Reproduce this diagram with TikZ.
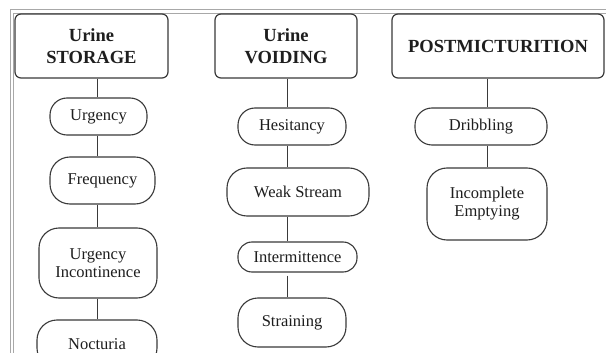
\documentclass[tikz,border=0pt]{standalone}
\usepackage{fontspec}
\setmainfont{Liberation Serif}
\definecolor{linec}{HTML}{3A3A3A}
\definecolor{txtc}{HTML}{1E1E1E}
\definecolor{framec}{HTML}{A8A8A8}
\tikzset{
  hdr/.style={draw=linec, line width=1.2pt, rounded corners=6pt, text=txtc,
    font=\fontsize{18.5}{22}\selectfont\bfseries, align=center, inner sep=0pt},
  item/.style={draw=linec, line width=1.1pt, rounded corners=17pt, text=txtc,
    font=\fontsize{16.5}{18}\selectfont, align=center, inner sep=0pt},
  tall/.style={rounded corners=20pt},
  conn/.style={draw=linec, line width=1pt},
  framel/.style={draw=framec, line width=1pt}
}
\begin{document}
\begin{tikzpicture}[x=1pt,y=-1pt]
\useasboundingbox (0,0) rectangle (606,353);
\clip (0,0) rectangle (606,353);
\fill[white] (0,0) rectangle (606,353);
% frame
\draw[framel] (10,353) -- (10,10) -- (606,10);
\draw[framel] (13.5,353) -- (13.5,13.5) -- (606,13.5);
% column axes
\coordinate (c1) at (97.7,0);
\coordinate (c2) at (287,0);
\coordinate (c3) at (487,0);
% storage
\node[hdr, minimum width=153pt, minimum height=64pt] (hs) at (91.5,46) {Urine\\STORAGE};
\node[item, minimum width=97pt, minimum height=37pt] (u1) at (98.5,116.5) {Urgency};
\node[item, tall, minimum width=105pt, minimum height=47pt] (u2) at (102.5,180.5) {Frequency};
\node[item, tall, minimum width=118pt, minimum height=70pt] (u3) at (98,263) {Urgency\\Incontinence};
\node[item, tall, minimum width=120pt, minimum height=48pt] (u4) at (97,344) {Nocturia};
% voiding
\node[hdr, minimum width=142pt, minimum height=64pt] (hv) at (286,46) {Urine\\VOIDING};
\node[item, minimum width=108pt, minimum height=37pt] (v1) at (292,126.5) {Hesitancy};
\node[item, tall, minimum width=142pt, minimum height=48pt] (v2) at (298,192) {Weak Stream};
\node[item, rounded corners=14pt, minimum width=119pt, minimum height=30pt] (v3) at (297.5,257) {Intermittence};
\node[item, tall, minimum width=108pt, minimum height=49pt] (v4) at (292,322.5) {Straining};
% postmicturition
\node[hdr, minimum width=212pt, minimum height=64pt] (hp) at (498,46) {POSTMICTURITION};
\node[item, minimum width=132pt, minimum height=37pt] (p1) at (481,126.5) {Dribbling};
\node[item, tall, minimum width=120pt, minimum height=72pt] (p2) at (487,204) {Incomplete\\Emptying};
% connectors
\draw[conn] (hs.south -| c1) -- (u1.north -| c1);
\draw[conn] (u1.south -| c1) -- (u2.north -| c1);
\draw[conn] (u2.south -| c1) -- (u3.north -| c1);
\draw[conn] (u3.south -| c1) -- (u4.north -| c1);
\draw[conn] (hv.south -| c2) -- (v1.north -| c2);
\draw[conn] (v1.south -| c2) -- (v2.north -| c2);
\draw[conn] (v2.south -| c2) -- (v3.north -| c2);
\draw[conn, shorten <=3pt] (v3.south -| c2) -- (v4.north -| c2);
\draw[conn] (hp.south -| c3) -- (p1.north -| c3);
\draw[conn] (p1.south -| c3) -- (p2.north -| c3);
\end{tikzpicture}
\end{document}
